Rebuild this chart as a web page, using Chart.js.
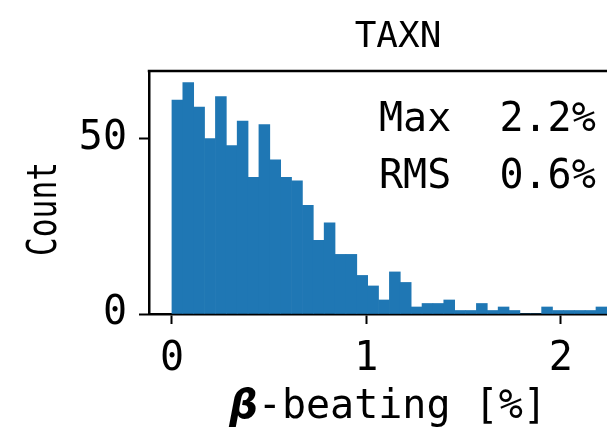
<!DOCTYPE html>
<html>
<head>
<meta charset="utf-8">
<script src="https://cdn.jsdelivr.net/npm/chart.js@4.4.0/dist/chart.umd.min.js"></script>
<style>
  html, body { margin: 0; padding: 0; background: #fff; overflow: hidden; }
  #wrap { width: 660px; height: 435px; }
</style>
</head>
<body>
<div id="wrap"><canvas id="hist" width="660" height="435"></canvas></div>
<script>
/* ===== data ===== */
const chartTitle = 'TAXN';
const yLabel     = 'Count';
// 41 bin edges -> 40 bins of beta-beating [%]
const binEdges = [0, 0.0559, 0.1118, 0.1677, 0.2237, 0.2796, 0.3355, 0.3914, 0.4473, 0.5032,
                  0.5592, 0.6151, 0.671, 0.7269, 0.7828, 0.8387, 0.8947, 0.9506, 1.0065, 1.0624,
                  1.1183, 1.1742, 1.2302, 1.2861, 1.342, 1.3979, 1.4538, 1.5097, 1.5657, 1.6216,
                  1.6775, 1.7334, 1.7893, 1.8452, 1.9011, 1.9571, 2.013, 2.0689, 2.1248, 2.1807, 2.2366];
const counts   = [61, 66, 59, 50, 62, 48, 55, 39, 54, 44,
                  39, 38, 31, 21, 26, 17, 17, 11, 8, 4,
                  12, 9, 2, 3, 3, 4, 1, 1, 3, 1,
                  2, 1, 0, 0, 2, 1, 1, 1, 1, 2];
const xTicks   = [0, 1, 2];
const yTicks   = [0, 50];
const statNames  = ['Max', 'RMS'];
const statValues = ['2.2%', '0.6%'];

/* ===== style ===== */
const MONO = '"DejaVu Sans Mono", monospace';
const FS   = 40;
const BLUE = '#1f77b4';

const points = counts.map((c, i) => ({ x: (binEdges[i] + binEdges[i + 1]) / 2, y: c }));

/* ===== extra drawing: top spine, title, y label, stats, x label ===== */
const decor = {
  id: 'decor',
  afterDraw (chart) {
    const { ctx, chartArea: a } = chart;
    ctx.save();
    ctx.strokeStyle = '#000';
    ctx.lineWidth = 2.5;
    ctx.beginPath();
    ctx.moveTo(a.left - 1.25, a.top);
    ctx.lineTo(a.right, a.top);
    ctx.stroke();

    ctx.fillStyle = '#000';
    ctx.textBaseline = 'alphabetic';

    // title
    ctx.font = `36px ${MONO}`;
    ctx.textAlign = 'center';
    ctx.fillText(chartTitle, (a.left + a.right) / 2, 47);

    // y label (condensed along its length)
    ctx.save();
    ctx.translate(46, 209);
    ctx.rotate(-Math.PI / 2);
    ctx.scale(0.78, 1);
    ctx.font = `${FS}px ${MONO}`;
    ctx.textBaseline = 'middle';
    ctx.fillText(yLabel, 0, 0);
    ctx.restore();

    // stats
    ctx.font = `${FS}px ${MONO}`;
    ctx.textAlign = 'left';
    statNames.forEach((n, i) => {
      ctx.fillText(`${n}  ${statValues[i]}`, 379, 131 + i * 57);
    });

    // x label: bold italic beta + mono text
    const beta = '\u03b2';
    const rest = '-beating [%]';
    ctx.font = `bold italic ${FS}px "DejaVu Sans", sans-serif`;
    const wB = ctx.measureText(beta).width;
    ctx.font = `${FS}px ${MONO}`;
    const wR = ctx.measureText(rest).width;
    const x0 = 388 - (wB + wR) / 2;
    ctx.font = `bold italic ${FS}px "DejaVu Sans", sans-serif`;
    ctx.fillText(beta, x0, 418);
    ctx.font = `${FS}px ${MONO}`;
    ctx.fillText(rest, x0 + wB, 418);
    ctx.restore();
  }
};

/* ===== chart ===== */
new Chart(document.getElementById('hist'), {
  type: 'bar',
  data: {
    datasets: [{
      data: points,
      backgroundColor: BLUE,
      borderWidth: 0,
      barPercentage: 1,
      categoryPercentage: 1
    }]
  },
  options: {
    responsive: false,
    animation: false,
    devicePixelRatio: 1,
    layout: { padding: { top: 71, right: 13, left: 0, bottom: 0 } },
    plugins: { legend: { display: false }, tooltip: { enabled: false } },
    scales: {
      x: {
        type: 'linear',
        min: -0.118,
        max: 2.443,
        offset: false,
        afterBuildTicks: s => { s.ticks = xTicks.map(v => ({ value: v })); },
        afterFit: s => { s.height = 121; },
        grid: { offset: false, drawOnChartArea: false, tickLength: 10, tickColor: '#000', tickWidth: 2 },
        border: { display: true, color: '#000', width: 2.5 },
        ticks: { color: '#000', font: { family: MONO, size: FS }, padding: 12, maxRotation: 0 }
      },
      y: {
        min: 0,
        max: 69.3,
        afterBuildTicks: s => { s.ticks = yTicks.map(v => ({ value: v })); },
        afterFit: s => { s.width = 149; },
        grid: { drawOnChartArea: false, tickLength: 10, tickColor: '#000', tickWidth: 2 },
        border: { display: true, color: '#000', width: 2.5 },
        ticks: { color: '#000', font: { family: MONO, size: FS }, padding: 12 }
      }
    }
  },
  plugins: [decor]
});
</script>
</body>
</html>
